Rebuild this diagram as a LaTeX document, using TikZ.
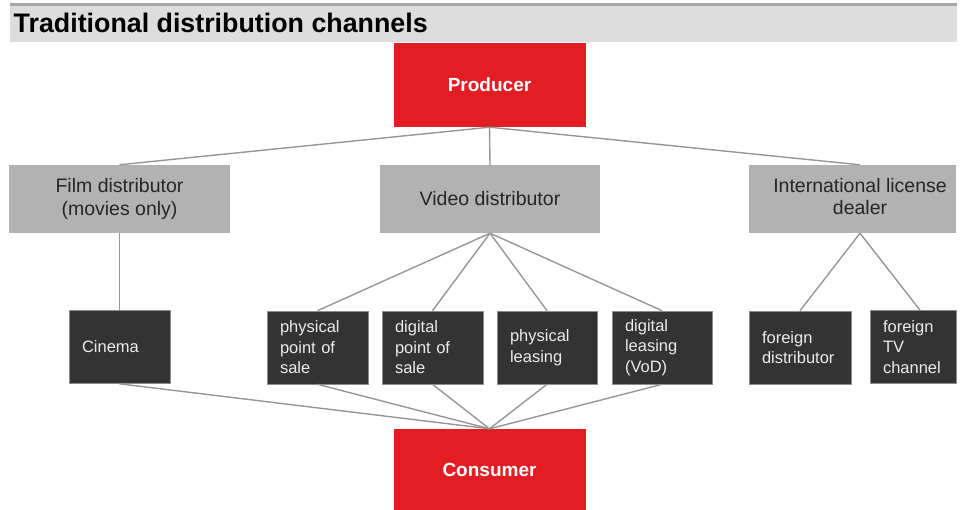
\documentclass[tikz,border=0pt]{standalone}
\usepackage{fontspec}
\setmainfont{Liberation Sans}
\definecolor{brandred}{RGB}{226,29,36}
\definecolor{midgray}{RGB}{178,178,178}
\definecolor{darkbox}{RGB}{51,51,51}
\definecolor{linkgray}{RGB}{150,150,150}
\definecolor{bandgray}{RGB}{221,221,221}
\definecolor{bandline}{RGB}{166,166,166}
\tikzset{
  x=1pt, y=-1pt,
  redbox/.style={rectangle, fill=brandred, inner sep=0pt, minimum width=192pt,
    text=white, font=\fontsize{19}{22}\selectfont\bfseries},
  graybox/.style={rectangle, fill=midgray, inner sep=0pt, minimum height=68pt,
    text=black!85, align=center, font=\fontsize{19.5}{23}\selectfont},
  darkcell/.style={rectangle, fill=darkbox, draw=black!45, line width=0.6pt,
    inner xsep=13pt, inner ysep=0pt, minimum height=73pt, text width=#1-26pt,
    align=left, text=white!92!black, font=\fontsize{16.5}{20.5}\selectfont},
  link/.style={draw=linkgray, line width=1.4pt}
}
\begin{document}
\begin{tikzpicture}
\useasboundingbox (0,0) rectangle (965,510);
% title band
\fill[bandgray] (10,3) rectangle (957,42);
\fill[bandline] (10,3) rectangle (957,6.5);
\node[anchor=base west, inner sep=0pt, font=\fontsize{26.8}{30}\selectfont\bfseries]
  (title) at (13.5,33) {Traditional distribution channels};

% top and bottom of the chain
\node[redbox, minimum height=84pt] (prod) at (489.5,85) {Producer};
\node[redbox, minimum height=82pt] (cons) at (489.5,470) {Consumer};

% distributors
\node[graybox, minimum width=221pt] (film) at (119.5,199) {Film distributor\\(movies only)};
\node[graybox, minimum width=220pt] (video) at (490,199) {Video distributor};
\node[graybox, minimum width=207pt] (intl) at (852.5,199)
  {\hspace*{15pt}\begin{tabular}{@{}c@{}}International license\\[-1.5pt]dealer\end{tabular}};

% outlets
\node[darkcell=101pt] (cinema) at (119.5,347) {Cinema};
\node[darkcell=101pt] (ppos) at (317.5,347.5) {physical\\point of\\sale};
\node[darkcell=101pt] (dpos) at (432.5,347.5) {digital\\point of\\sale};
\node[darkcell=100pt] (plea) at (547,347.5) {physical\\leasing};
\node[darkcell=100pt] (dlea) at (662,347.5) {digital\\leasing\\(VoD)};
\node[darkcell=102pt] (fdist) at (800,347.5) {foreign\\distributor};
\node[darkcell=86pt] (ftv) at (913,347) {foreign\\TV\\channel};

% connectors
\draw[link] (prod.south) -- (film.north);
\draw[link] (prod.south) -- (video.north);
\draw[link] (prod.south) -- ([xshift=7.5pt]intl.north);
\draw[link] (film.south) -- (cinema.north);
\foreach \t in {ppos,dpos,plea,dlea}
  \draw[link] (video.south) -- (\t.north);
\draw[link] ([xshift=7.5pt]intl.south) -- (fdist.north);
\draw[link] ([xshift=7.5pt]intl.south) -- ([xshift=7pt]ftv.north);
\foreach \s in {cinema,ppos,dpos,plea,dlea}
  \draw[link] (\s.south) -- (cons.north);
\end{tikzpicture}
\end{document}
